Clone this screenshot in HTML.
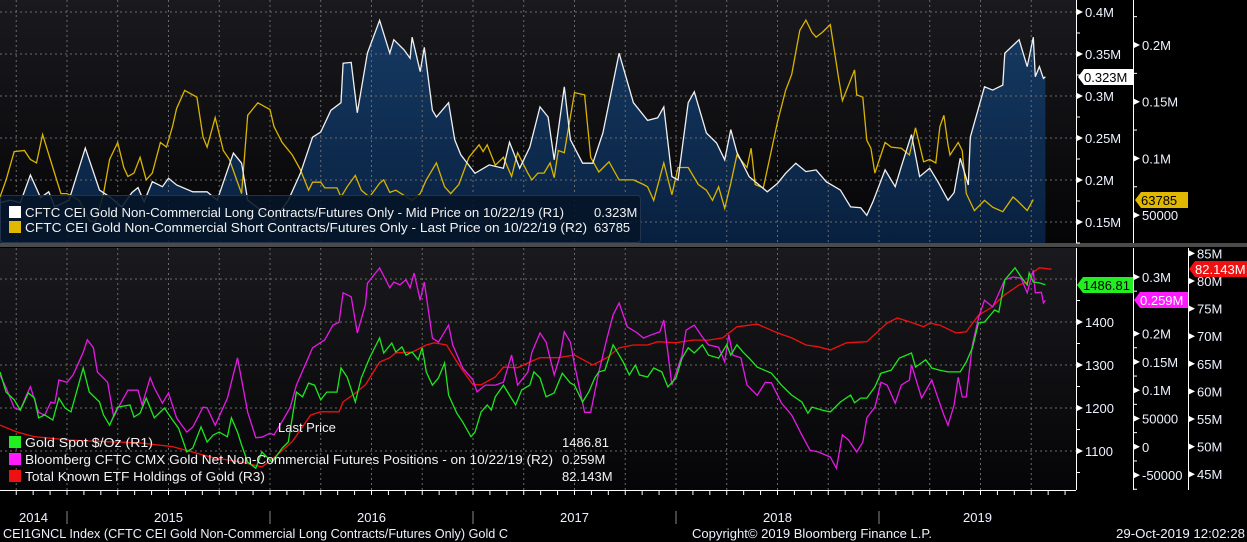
<!DOCTYPE html>
<html><head><meta charset="utf-8">
<style>
html,body{margin:0;padding:0;background:#000;}
svg{display:block;font-family:"Liberation Sans",sans-serif;}
</style></head>
<body>
<svg id="chart" width="1247" height="542" viewBox="0 0 1247 542" xmlns="http://www.w3.org/2000/svg">
<defs>
<linearGradient id="bgTop" x1="0" y1="0" x2="0" y2="1"><stop offset="0" stop-color="#1a1a1e"/><stop offset="1" stop-color="#050507"/></linearGradient>
<linearGradient id="bgBot" x1="0" y1="0" x2="0" y2="1"><stop offset="0" stop-color="#1a1a1e"/><stop offset="1" stop-color="#050507"/></linearGradient>
<linearGradient id="areaFill" x1="0" y1="0" x2="0" y2="1"><stop offset="0" stop-color="#163a63"/><stop offset="1" stop-color="#08203f"/></linearGradient>
<clipPath id="clipTop"><rect x="0" y="0" width="1076" height="243"/></clipPath>
<clipPath id="clipBot"><rect x="0" y="248" width="1076" height="242"/></clipPath>
</defs>
<rect x="0" y="0" width="1247" height="542" fill="#000"/>
<rect x="0" y="0" width="1076" height="243" fill="url(#bgTop)"/>
<rect x="0" y="248" width="1076" height="242" fill="url(#bgBot)"/>
<rect x="0" y="243" width="1247" height="4" fill="#4a4a4a"/>
<g id="areas"></g>
<g id="grid"></g>
<g id="series"></g>
<g id="axes"></g>
<g id="legends"></g>
</svg>
<script>
// ---- top panel data ----
const longDates=[2014.67,2014.72,2014.77,2014.82,2014.87,2014.91,2014.94,2015.01,2015.09,2015.16,2015.21,2015.27,2015.32,2015.35,2015.38,2015.42,2015.47,2015.50,2015.54,2015.62,2015.69,2015.74,2015.82,2015.86,2015.89,2016.00,2016.02,2016.09,2016.15,2016.21,2016.25,2016.30,2016.35,2016.36,2016.40,2016.43,2016.48,2016.54,2016.59,2016.61,2016.66,2016.69,2016.70,2016.74,2016.76,2016.80,2016.82,2016.88,2016.91,2016.94,2017.01,2017.08,2017.15,2017.18,2017.23,2017.28,2017.33,2017.37,2017.40,2017.45,2017.48,2017.54,2017.59,2017.64,2017.72,2017.79,2017.86,2017.91,2017.94,2017.98,2018.01,2018.06,2018.09,2018.15,2018.20,2018.24,2018.27,2018.30,2018.36,2018.45,2018.50,2018.54,2018.59,2018.64,2018.69,2018.74,2018.81,2018.84,2018.86,2018.91,2018.94,2018.97,2019.03,2019.08,2019.11,2019.16,2019.20,2019.25,2019.29,2019.34,2019.37,2019.40,2019.44,2019.45,2019.52,2019.56,2019.61,2019.62,2019.69,2019.73,2019.76,2019.77,2019.79,2019.81,2019.82];
const longVals=[173,176,173,206,179,186,168,176,238,188,180,168,185,191,174,198,192,202,194,186,186,176,232,220,176,156,152,176,208,251,257,283,292,339,340,280,351,390,351,367,355,345,370,329,358,283,275,292,248,230,208,218,214,245,214,239,287,275,224,311,248,220,220,256,351,292,271,274,287,204,200,292,305,256,244,224,260,233,204,186,196,208,220,210,212,198,188,176,168,167,158,174,212,192,216,254,204,214,198,176,185,226,194,251,311,307,313,351,367,335,370,323,335,321,323];
const shortDates=[2014.67,2014.70,2014.74,2014.79,2014.82,2014.85,2014.88,2014.93,2014.97,2015.00,2015.06,2015.11,2015.14,2015.18,2015.21,2015.25,2015.28,2015.30,2015.33,2015.36,2015.39,2015.42,2015.46,2015.49,2015.52,2015.54,2015.58,2015.64,2015.67,2015.69,2015.73,2015.77,2015.80,2015.86,2015.89,2015.94,2016.00,2016.02,2016.06,2016.11,2016.15,2016.19,2016.21,2016.25,2016.27,2016.33,2016.35,2016.38,2016.42,2016.45,2016.49,2016.54,2016.56,2016.59,2016.62,2016.70,2016.74,2016.77,2016.82,2016.86,2016.89,2016.93,2016.98,2017.03,2017.05,2017.07,2017.11,2017.15,2017.19,2017.22,2017.27,2017.29,2017.32,2017.35,2017.38,2017.40,2017.42,2017.45,2017.50,2017.55,2017.58,2017.62,2017.67,2017.72,2017.79,2017.84,2017.86,2017.89,2017.94,2017.98,2018.01,2018.06,2018.11,2018.15,2018.18,2018.21,2018.24,2018.27,2018.30,2018.35,2018.37,2018.39,2018.43,2018.47,2018.50,2018.54,2018.57,2018.61,2018.64,2018.67,2018.69,2018.72,2018.76,2018.80,2018.82,2018.88,2018.89,2018.92,2018.94,2018.96,2018.98,2019.03,2019.06,2019.11,2019.15,2019.18,2019.22,2019.25,2019.28,2019.30,2019.32,2019.34,2019.35,2019.39,2019.41,2019.43,2019.47,2019.52,2019.56,2019.61,2019.66,2019.68,2019.73,2019.76,2019.82];
const shortVals=[66,81,106,107,99,96,121,92,69,69,63,45,44,69,99,114,92,84,87,101,81,87,114,110,128,144,160,154,119,110,136,107,99,69,138,149,143,128,114,103,90,72,79,79,74,74,66,75,85,72,66,78,81,70,72,63,69,81,96,75,69,77,101,112,106,112,94,101,84,105,87,81,87,87,96,83,107,105,158,156,101,88,97,81,81,77,75,63,96,68,92,92,77,72,63,75,56,78,103,92,109,77,74,107,132,160,174,213,222,211,207,211,218,172,151,178,156,154,116,109,87,114,110,109,103,127,97,99,96,128,138,112,103,114,107,69,54,63,57,53,66,63,54,63.785];
// ---- bottom panel data ----
const goldDates=[2014.67,2014.70,2014.74,2014.77,2014.81,2014.84,2014.86,2014.89,2014.93,2014.96,2014.99,2015.02,2015.08,2015.11,2015.16,2015.18,2015.21,2015.25,2015.31,2015.33,2015.36,2015.39,2015.43,2015.48,2015.52,2015.55,2015.59,2015.62,2015.66,2015.69,2015.72,2015.75,2015.79,2015.81,2015.84,2015.86,2015.89,2015.93,2015.96,2016.01,2016.06,2016.09,2016.13,2016.16,2016.19,2016.22,2016.25,2016.28,2016.33,2016.35,2016.38,2016.42,2016.45,2016.49,2016.54,2016.56,2016.60,2016.62,2016.65,2016.67,2016.70,2016.73,2016.75,2016.77,2016.80,2016.83,2016.86,2016.88,2016.92,2016.95,2016.99,2017.01,2017.04,2017.07,2017.09,2017.11,2017.15,2017.18,2017.21,2017.24,2017.28,2017.30,2017.33,2017.36,2017.40,2017.44,2017.48,2017.50,2017.54,2017.57,2017.60,2017.62,2017.65,2017.69,2017.74,2017.77,2017.80,2017.82,2017.86,2017.89,2017.93,2017.96,2018.00,2018.03,2018.06,2018.09,2018.13,2018.16,2018.21,2018.25,2018.27,2018.30,2018.33,2018.36,2018.40,2018.47,2018.52,2018.57,2018.62,2018.65,2018.67,2018.72,2018.76,2018.81,2018.86,2018.88,2018.91,2018.94,2018.98,2019.01,2019.06,2019.10,2019.16,2019.18,2019.23,2019.26,2019.30,2019.34,2019.40,2019.43,2019.46,2019.49,2019.52,2019.57,2019.59,2019.62,2019.67,2019.70,2019.73,2019.74,2019.76,2019.79,2019.82];
const goldVals=[1284,1237,1219,1195,1235,1223,1177,1184,1172,1223,1200,1191,1293,1237,1214,1184,1160,1202,1207,1179,1188,1223,1177,1200,1172,1153,1098,1107,1156,1121,1137,1144,1133,1177,1144,1114,1074,1060,1098,1074,1107,1121,1237,1226,1258,1253,1219,1237,1237,1293,1272,1214,1270,1316,1363,1328,1351,1330,1342,1323,1330,1312,1340,1284,1253,1270,1305,1230,1188,1167,1133,1144,1191,1207,1195,1226,1253,1230,1207,1242,1253,1284,1270,1226,1235,1281,1258,1253,1214,1237,1270,1284,1288,1347,1307,1277,1300,1277,1272,1293,1284,1249,1270,1316,1340,1328,1347,1323,1316,1347,1323,1347,1330,1316,1295,1281,1253,1230,1214,1188,1202,1195,1191,1214,1230,1212,1223,1223,1249,1281,1288,1316,1328,1295,1312,1293,1288,1284,1284,1307,1340,1398,1400,1428,1423,1498,1526,1505,1486,1514,1493,1491,1486.81];
const netDates=[2014.67,2014.70,2014.74,2014.77,2014.80,2014.82,2014.86,2014.89,2014.92,2014.94,2014.96,2015.00,2015.03,2015.08,2015.10,2015.13,2015.15,2015.20,2015.23,2015.26,2015.30,2015.35,2015.37,2015.41,2015.43,2015.47,2015.50,2015.54,2015.59,2015.62,2015.67,2015.69,2015.73,2015.79,2015.84,2015.89,2015.93,2015.96,2016.00,2016.02,2016.07,2016.10,2016.13,2016.18,2016.21,2016.27,2016.31,2016.34,2016.36,2016.40,2016.43,2016.47,2016.48,2016.54,2016.59,2016.61,2016.64,2016.67,2016.69,2016.71,2016.74,2016.76,2016.80,2016.83,2016.88,2016.90,2016.95,2017.00,2017.02,2017.06,2017.11,2017.15,2017.19,2017.22,2017.27,2017.29,2017.33,2017.36,2017.40,2017.43,2017.45,2017.48,2017.50,2017.55,2017.58,2017.62,2017.66,2017.69,2017.72,2017.76,2017.81,2017.84,2017.88,2017.92,2017.94,2017.98,2018.03,2018.05,2018.09,2018.13,2018.16,2018.21,2018.24,2018.26,2018.28,2018.32,2018.35,2018.40,2018.44,2018.47,2018.52,2018.57,2018.62,2018.66,2018.70,2018.76,2018.79,2018.82,2018.85,2018.89,2018.92,2018.94,2018.98,2019.01,2019.04,2019.08,2019.11,2019.15,2019.16,2019.21,2019.26,2019.28,2019.32,2019.34,2019.37,2019.39,2019.41,2019.43,2019.46,2019.49,2019.52,2019.56,2019.62,2019.66,2019.70,2019.73,2019.76,2019.77,2019.80,2019.81,2019.82];
const netVals=[127,104,69,65,91,106,61,56,79,77,118,114,127,167,189,175,132,114,53,74,100,100,74,122,104,77,95,51,26,35,70,69,38,86,157,61,16,17,24,21,51,70,109,150,175,189,215,220,272,265,201,251,289,316,281,291,286,295,281,307,259,291,192,185,215,180,139,118,97,109,109,114,162,109,132,167,201,185,127,162,203,185,145,61,61,132,192,233,254,212,201,192,198,203,224,109,162,206,215,194,180,176,150,198,162,157,109,91,114,113,77,56,21,-6,-9,-18,-38,21,12,-9,8,51,70,114,109,77,109,118,145,86,118,97,56,38,74,123,88,88,180,228,259,247,295,300,298,272,312,272,273,254,259];
const etfDates=[2014.67,2014.75,2014.84,2015.01,2015.18,2015.35,2015.52,2015.62,2015.72,2015.86,2015.96,2016.02,2016.11,2016.20,2016.25,2016.34,2016.36,2016.42,2016.47,2016.54,2016.59,2016.62,2016.70,2016.77,2016.81,2016.87,2016.93,2017.00,2017.04,2017.11,2017.15,2017.22,2017.28,2017.33,2017.42,2017.50,2017.59,2017.66,2017.72,2017.79,2017.86,2017.91,2018.00,2018.08,2018.16,2018.23,2018.30,2018.40,2018.50,2018.57,2018.64,2018.70,2018.76,2018.84,2018.94,2019.04,2019.09,2019.15,2019.22,2019.25,2019.30,2019.38,2019.43,2019.49,2019.55,2019.62,2019.69,2019.73,2019.76,2019.79,2019.85];
const etfVals=[53.9,52.7,51.8,51.2,50.9,50.7,50.0,49.0,48.0,47.2,46.3,48.0,50.9,55.7,56.3,56.3,58.1,59.7,61.2,65.3,66.1,67.0,67.1,68.4,68.8,68.4,64.8,61.2,61.2,62.6,64.4,64.3,65.3,66.1,66.1,66.6,64.8,66.1,67.9,68.4,68.4,69.0,68.8,69.3,69.3,69.7,71.7,72.2,70.6,69.7,68.4,68.1,67.5,68.8,69.0,72.4,73.3,72.6,71.7,72.4,72.0,70.6,70.8,73.8,75.1,77.5,79.3,79.8,81.6,82.4,82.143];
// ---- tick arrays ----
const topR1Ticks=[400,350,300,250,200,150];
const topR1Labels=["0.4M","0.35M","0.3M","0.25M","0.2M","0.15M"];
const topR2Ticks=[200,150,100,50];
const topR2Labels=["0.2M","0.15M","0.1M","50000"];
const botR1Ticks=[1400,1300,1200,1100];
const botR1Grid=[1500,1400,1300,1200,1100];
const botR2Ticks=[300,200,150,100,50,0,-50];
const botR2Labels=["0.3M","0.2M","0.15M","0.1M","50000","0","-50000"];
const botR3Ticks=[85,80,75,70,65,60,55,50,45];
const years=[2014,2015,2016,2017,2018,2019];

const NS="http://www.w3.org/2000/svg";
const T0=2014.67, PXY=203;
const xOf=t=>(t-T0)*PXY;
const yTopR1=v=>12+(400-v)*42/50;
const yTopR2=v=>45+(200-v)*56.7/50;
const yGold=v=>322+(1400-v)*0.43;
const yNet=v=>277+(300-v)*0.566;
const yEtf=v=>281+(80-v)*5.52;
function mk(tag,attrs,parent){const e=document.createElementNS(NS,tag);for(const k in attrs)e.setAttribute(k,attrs[k]);parent.appendChild(e);return e;}
function txt(parent,x,y,s,fill,size,anchor,len){const e=mk('text',{x:x,y:y,fill:fill,'font-size':size,'text-anchor':anchor||'start'},parent);if(len){e.setAttribute('textLength',len);e.setAttribute('lengthAdjust','spacingAndGlyphs');}e.textContent=s;return e;}
const areas=document.getElementById('areas'), grid=document.getElementById('grid'), ser=document.getElementById('series'), axes=document.getElementById('axes'), leg=document.getElementById('legends');

// area (below grid)
function pts(d,v,yf){return d.map((t,i)=>xOf(t).toFixed(1)+','+yf(v[i]).toFixed(1)).join(' ');}
const lp=pts(longDates,longVals,yTopR1);
const gArea=mk('g',{'clip-path':'url(#clipTop)'},areas);
const area=mk('polygon',{points:xOf(longDates[0])+',243 '+lp+' '+xOf(longDates[longDates.length-1])+',243',fill:'url(#areaFill)'},gArea);


// grids
for(let q=2014.75;q<2019.9;q+=0.25){const x=xOf(q);
 let l=mk('line',{x1:x,y1:0,x2:x,y2:243,stroke:'#6b6b6b','stroke-dasharray':'2,3','stroke-width':1},grid);
 
 l=mk('line',{x1:x,y1:248,x2:x,y2:490,stroke:'#6b6b6b','stroke-dasharray':'2,3','stroke-width':1},grid);
 }
topR1Ticks.forEach(v=>{const y=yTopR1(v);const l=mk('line',{x1:0,y1:y,x2:1076,y2:y,stroke:'#6b6b6b','stroke-dasharray':'2,3'},grid);
 });
botR1Grid.forEach(v=>{const y=yGold(v);const l=mk('line',{x1:0,y1:y,x2:1076,y2:y,stroke:'#6b6b6b','stroke-dasharray':'2,3'},grid);
 });

// series
const gTop=mk('g',{'clip-path':'url(#clipTop)'},ser);
const shortLine=mk('polyline',{points:pts(shortDates,shortVals,yTopR2),fill:'none',stroke:'#d9b400','stroke-width':1.3},gTop);

const longLine=mk('polyline',{points:lp,fill:'none',stroke:'#f0f0f0','stroke-width':1.3},gTop);

const gBot=mk('g',{'clip-path':'url(#clipBot)'},ser);
const etfLine=mk('polyline',{points:pts(etfDates,etfVals,yEtf),fill:'none',stroke:'#ee1111','stroke-width':1.3},gBot);

const netLine=mk('polyline',{points:pts(netDates,netVals,yNet),fill:'none',stroke:'#e619e6','stroke-width':1.3},gBot);

const goldLine=mk('polyline',{points:pts(goldDates,goldVals,yGold),fill:'none',stroke:'#1ee61e','stroke-width':1.3},gBot);


// axes
function vAxis(x,y1,y2,name){const l=mk('line',{x1:x,y1:y1,x2:x,y2:y2,stroke:'#fff','stroke-width':1},axes);}
vAxis(1076.5,0,243,'top-r1-axis');vAxis(1133.5,0,243,'top-r2-axis');
vAxis(1076.5,248,490,'bottom-r1-axis');vAxis(1133.5,248,490,'bottom-r2-axis');vAxis(1188.5,248,490,'bottom-r3-axis');
function tick(x,y,label,name){mk('polygon',{points:(x+1)+','+(y-3)+' '+(x+7)+','+y+' '+(x+1)+','+(y+3)},axes).setAttribute('fill','#fff');
 const t=txt(axes,x+9,y+5,label,'#eef2ff',13);}
function minor(x,y){mk('line',{x1:x,y1:y,x2:x+4,y2:y,stroke:'#fff'},axes);}
topR1Ticks.forEach((v,i)=>{tick(1076,yTopR1(v),topR1Labels[i],'top-r1-tick-label');minor(1076,yTopR1(v-25));});
topR2Ticks.forEach((v,i)=>{tick(1133,yTopR2(v),topR2Labels[i],'top-r2-tick-label');minor(1133,yTopR2(v+25));});
botR1Ticks.forEach(v=>{tick(1076,yGold(v),String(v),'bottom-r1-tick-label');minor(1076,yGold(v+50));});
minor(1076,yGold(1050));
botR2Ticks.forEach((v,i)=>{tick(1133,yNet(v),botR2Labels[i],'bottom-r2-tick-label');minor(1133,yNet(v-25));});
botR3Ticks.forEach(v=>{tick(1188,yEtf(v),v+'M','bottom-r3-tick-label');});
// x axis
const xl=mk('line',{x1:0,y1:490.5,x2:1076,y2:490.5,stroke:'#fff'},axes);
for(let m=0;m<64;m++){const t=2014.75+m/12;const x=xOf(t);if(x>1076)break;mk('line',{x1:x,y1:490,x2:x,y2:495,stroke:'#fff'},axes);}
years.forEach(y=>{if(y>2014){const x=xOf(y);mk('line',{x1:x,y1:511,x2:x,y2:524,stroke:'#888'},axes);}
 const a=Math.max(0,xOf(y)), b=Math.min(1076,xOf(y+1));
 const t=txt(axes,(a+b)/2,522,String(y),'#eef2ff',13,'middle');});

// value labels on axes
function vlabel(x,y,w,fill,tc,s,name){const g=mk('g',{},axes);
 mk('polygon',{points:x+','+y+' '+(x+6)+','+(y-8)+' '+(x+w)+','+(y-8)+' '+(x+w)+','+(y+8)+' '+(x+6)+','+(y+8),fill:fill},g);
 txt(g,x+6,y+5,s,tc,13);}
vlabel(1078,77,55,'#ffffff','#000','0.323M','long-value-label');
vlabel(1135,200,53,'#e0b800','#000','63785','short-value-label');
vlabel(1077,285,56,'#22ee22','#000','1486.81','gold-value-label');
vlabel(1134,300,54,'#ff1aff','#fff','0.259M','net-value-label');
vlabel(1189,269,58,'#ee1111','#fff','82.143M','etf-value-label');

// legends
const lb=mk('rect',{x:0.5,y:195.5,width:640,height:47,rx:3,fill:'rgba(4,20,40,0.88)',stroke:'#22334d'},leg);
function entry(y,color,label,len,val,vx,name){const g=mk('g',{},leg);
 mk('rect',{x:9,y:y-11,width:12,height:12,fill:color},g);txt(g,25,y,label,'#f2f2f2',13,'start',len);if(val)txt(g,vx,y,val,'#f2f2f2',13);}
entry(217,'#ffffff','CFTC CEI Gold Non-Commercial Long Contracts/Futures Only - Mid Price on 10/22/19 (R1)',539,'0.323M',594,'legend-long');
entry(232,'#e0b800','CFTC CEI Gold Non-Commercial Short Contracts/Futures Only - Last Price on 10/22/19 (R2)',562,'63785',594,'legend-short');
const lpt=txt(leg,278,432,'Last Price','#f2f2f2',13);
entry(447,'#22ee22','Gold Spot $/Oz  (R1)',128,'1486.81',562,'legend-gold');
entry(464,'#ff1aff','Bloomberg CFTC CMX Gold Net Non-Commercial Futures Positions -  on 10/22/19  (R2)',528,'0.259M',562,'legend-net');
entry(481,'#ee1111','Total Known ETF Holdings of Gold  (R3)',240,'82.143M',562,'legend-etf');
// footer
let f=txt(leg,3,538,'CEI1GNCL Index (CFTC CEI Gold Non-Commercial Long Contracts/Futures Only) Gold C','#eef2ff',12.5,'start',505);
f=txt(leg,692,538,'Copyright© 2019 Bloomberg Finance L.P.','#eef2ff',12.5,'start',240);
f=txt(leg,1245,538,'29-Oct-2019 12:02:28','#eef2ff',12.5,'end',129);
</script>
</body></html>
